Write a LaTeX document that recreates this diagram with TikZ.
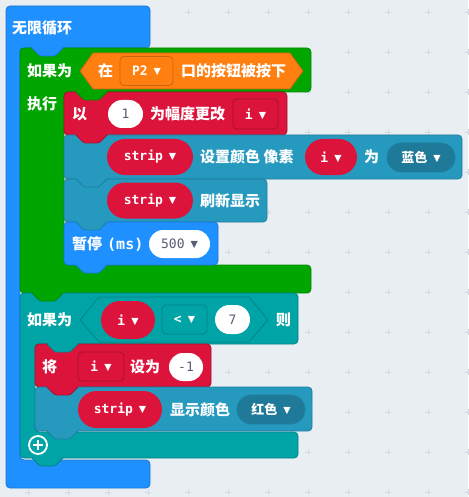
\documentclass[tikz,border=0pt]{standalone}
\usepackage{fontspec}
\setmainfont{Noto Sans CJK SC}
\setmonofont{DejaVu Sans Mono}
\newfontfamily\arrowfont{DejaVu Sans}
\usetikzlibrary{shapes.misc}
\definecolor{bgcol}{HTML}{E9EEF2}
\definecolor{gridcol}{HTML}{D3D9DF}
\definecolor{loopblue}{HTML}{1E90FF}
\definecolor{loopbluedk}{HTML}{1A78D6}
\definecolor{ifgreen}{HTML}{00A500}
\definecolor{ifgreendk}{HTML}{008A00}
\definecolor{varred}{HTML}{DC143C}
\definecolor{varreddk}{HTML}{A80F2E}
\definecolor{neo}{HTML}{2699BF}
\definecolor{neodk}{HTML}{1F7F9F}
\definecolor{neodark}{HTML}{1E7A98}
\definecolor{logic}{HTML}{00A4A6}
\definecolor{logicdk}{HTML}{008486}
\definecolor{pinorange}{HTML}{FF7F10}
\definecolor{pinorangedk}{HTML}{CC6510}
\definecolor{numtext}{HTML}{575E75}
\newcommand\dd{\hspace{6pt}\raisebox{1.2pt}{\arrowfont\fontsize{9.5}{9.5}\selectfont ▼}}
% tab of the upper block: fill, edge, x, y
\newcommand\blocktab[4]{%
  \fill[#1,rounded corners=1.5] (#3+12,#4-1) -- (#3+12,#4) -- (#3+20,#4+8) -- (#3+35,#4+8) -- (#3+43,#4) -- (#3+43,#4-1) -- cycle;
  \draw[#2,line width=0.8,rounded corners=1.5] (#3+12,#4) -- (#3+20,#4+8) -- (#3+35,#4+8) -- (#3+43,#4);}
\tikzset{
  lbl/.style={text=white, font=\bfseries\fontsize{15}{15}\selectfont, anchor=west, inner sep=0pt},
  code/.style={text=white, font=\ttfamily\bfseries\fontsize{13}{13}\selectfont},
  pill/.style={rounded rectangle, inner sep=0pt, line width=0.8},
  numpill/.style={pill, fill=white, text=numtext, font=\ttfamily\fontsize{13}{13}\selectfont},
  ddbox/.style={rectangle, rounded corners=4, inner sep=0pt, line width=0.8, code},
  body/.style={line width=0.8, rounded corners=4},
}
\begin{document}
\begin{tikzpicture}[x=1pt, y=-1pt]
\useasboundingbox (0,0) rectangle (468,497);
\fill[bgcol] (0,0) rectangle (468,497);
\foreach \gx in {28,68,...,468}
  \foreach \gy in {12,52,...,492}
    \draw[gridcol, line width=0.8] (\gx-3,\gy) -- (\gx+3,\gy) (\gx,\gy-3) -- (\gx,\gy+3);

% forever
\filldraw[body, fill=loopblue, draw=loopbluedk] (6,6) -- (150,6) -- (150,48) -- (20,48) -- (20,460) -- (150,460) -- (150,488) -- (6,488) -- cycle;
\node (forever) [lbl] at (12,28) {无限循环};

% if pin pressed
\filldraw[body, fill=ifgreen, draw=ifgreendk] (20,48) -- (311,48) -- (311,92) -- (64,92) -- (64,265) -- (311,265) -- (311,293) -- (20,293) -- cycle;
\node (if1) [lbl] at (27,71) {如果为};
\node (do1) [lbl] at (27,104) {执行};
\filldraw[fill=pinorange, draw=pinorangedk, line width=0.8] (80,71) -- (93,53) -- (290,53) -- (303,71) -- (290,89) -- (93,89) -- cycle;
\node (at) [lbl] at (98,71) {在};
\node (pin) [ddbox, fill=pinorange, draw=pinorangedk, minimum width=53, minimum height=29] at (146.5,71) {P2\dd};
\node (pressed) [lbl] at (181,71) {口的按钮被按下};

% change i by 1
\filldraw[body, fill=varred, draw=varreddk] (64,92) rectangle (287,135);
\node (by) [lbl] at (72,114) {以};
\node (one) [numpill, minimum width=35, minimum height=28] at (125.5,114) {1};
\node (change) [lbl] at (150,114) {为幅度更改};
\node (var1) [ddbox, fill=varred, draw=varreddk, minimum width=45, minimum height=30] at (255.5,114) {i\dd};

% set pixel color
\filldraw[body, fill=neo, draw=neodk] (64,135) rectangle (462,179);
\node (strip1) [pill, code, fill=varred, minimum width=86, minimum height=36] at (150,157) {strip\dd};
\node (setpix) [lbl] at (200,157) {设置颜色 像素};
\node (var2) [pill, code, fill=varred, minimum width=52, minimum height=36] at (331,157) {i\dd};
\node (to) [lbl] at (364,157) {为};
\node (blue) [pill, code, fill=neodark, draw=neodk, minimum width=68, minimum height=29] at (421,157.5) {\rmfamily 蓝色\dd};

% show
\filldraw[body, fill=neo, draw=neodk] (64,179) rectangle (267,222);
\node (strip2) [pill, code, fill=varred, minimum width=86, minimum height=36] at (150,200.5) {strip\dd};
\node (show) [lbl] at (200,200.5) {刷新显示};

% pause
\filldraw[body, fill=loopblue, draw=loopbluedk] (64,222) rectangle (218,265);
\node (pause) [lbl] at (72,244) {暂停\hspace{5pt}{\ttfamily(ms)}};
\node (ms) [numpill, minimum width=61, minimum height=28] at (179.5,244) {500\dd};

% if i < 7
\filldraw[body, fill=logic, draw=logicdk] (20,293) -- (298,293) -- (298,344) -- (35,344) -- (35,432) -- (298,432) -- (298,458) -- (20,458) -- cycle;
\node (if2) [lbl] at (27,320) {如果为};
\filldraw[fill=logic, draw=logicdk, line width=0.8] (80,320) -- (99,297) -- (249,297) -- (268,320) -- (249,342) -- (99,342) -- cycle;
\node (var3) [pill, code, fill=varred, minimum width=54, minimum height=38] at (128,320) {i\dd};
\node (lt) [ddbox, fill=logic, draw=logicdk, minimum width=45, minimum height=29] at (184.5,319.5) {<\dd};
\node (seven) [numpill, minimum width=35, minimum height=29] at (232.5,319.5) {7};
\node (then) [lbl] at (276,320) {则};
\node (plus) [circle, draw=white, line width=1.8, minimum size=18, inner sep=0pt] at (38,445) {};
\draw[white, line width=2.4] (plus.center) ++(-5,0) -- ++(10,0) (plus.center) ++(0,-5) -- ++(0,10);

% set i to -1
\filldraw[body, fill=varred, draw=varreddk] (35,344) rectangle (211,387);
\node (set) [lbl] at (42,367) {将};
\node (var4) [ddbox, fill=varred, draw=varreddk, minimum width=46, minimum height=29] at (101,366.5) {i\dd};
\node (setto) [lbl] at (130,367) {设为};
\node (minus) [numpill, minimum width=34, minimum height=28] at (186,367) {-1};

% show color
\filldraw[body, fill=neo, draw=neodk] (35,387) rectangle (312,431);
\node (strip3) [pill, code, fill=varred, minimum width=84, minimum height=37] at (120,409.5) {strip\dd};
\node (showcol) [lbl] at (170,409.5) {显示颜色};
\node (red) [pill, code, fill=neodark, draw=neodk, minimum width=68, minimum height=29] at (271,409.5) {\rmfamily 红色\dd};

% tabs
\blocktab{loopblue}{loopbluedk}{20}{48}
\blocktab{ifgreen}{ifgreendk}{64}{92}
\blocktab{varred}{varreddk}{64}{135}
\blocktab{neo}{neodk}{64}{179}
\blocktab{neo}{neodk}{64}{222}
\blocktab{loopblue}{loopbluedk}{64}{265}
\blocktab{ifgreen}{ifgreendk}{20}{293}
\blocktab{logic}{logicdk}{35}{344}
\blocktab{varred}{varreddk}{35}{387}
\blocktab{neo}{neodk}{35}{431}
\blocktab{logic}{logicdk}{20}{458}
\end{tikzpicture}
\end{document}
